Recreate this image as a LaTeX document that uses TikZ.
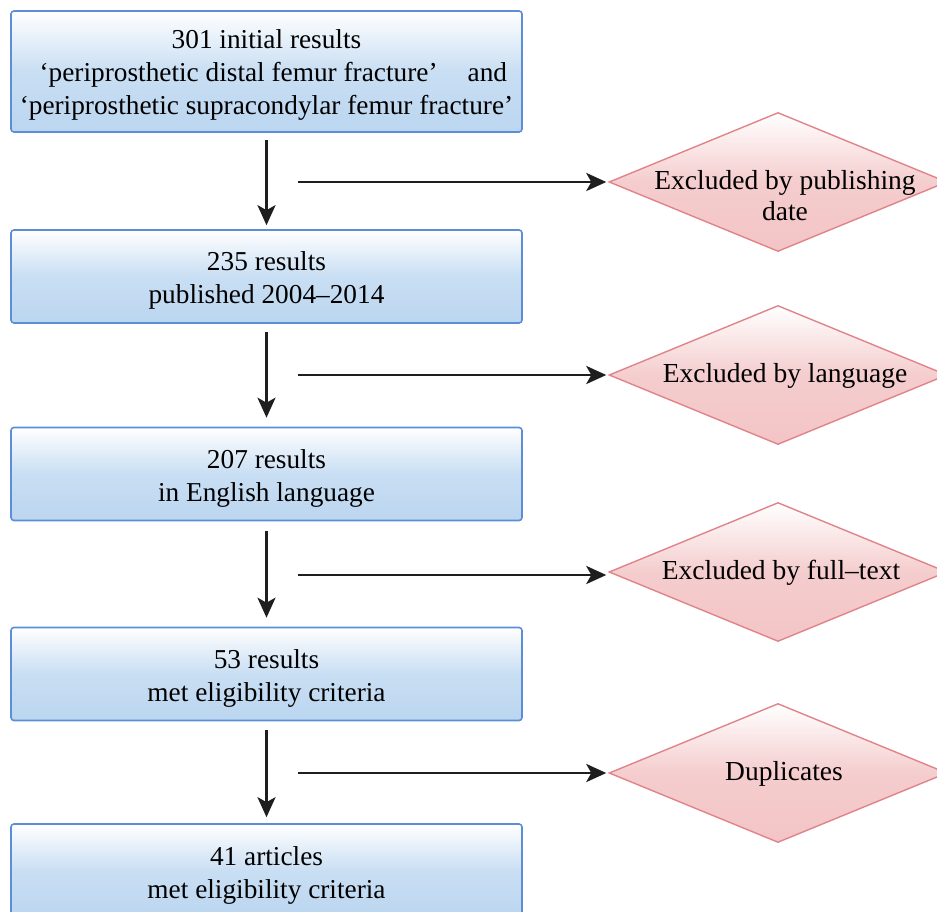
\documentclass[tikz,border=0pt]{standalone}
\usepackage{fontspec}
\setmainfont{Liberation Serif}
\usetikzlibrary{shapes.geometric,arrows.meta}
\definecolor{boxline}{HTML}{5B8ED6}
\definecolor{boxfill}{HTML}{BBD6F0}
\definecolor{dialine}{HTML}{E0848A}
\definecolor{diafill}{HTML}{F3C4C5}
\definecolor{arrowc}{HTML}{1E1E1E}
\tikzset{
  stepbox/.style={draw=boxline, line width=1.6pt, rounded corners=3pt,
    top color=white, bottom color=boxfill, middle color=boxfill!80!white,
    minimum width=511pt, inner sep=0pt},
  steptext/.style={align=center, inner sep=0pt, font=\fontsize{27.3}{33}\selectfont},
  exclbox/.style={diamond, draw=dialine, line width=1.4pt,
    top color=white, bottom color=diafill, middle color=diafill!85!white,
    minimum width=338pt, minimum height=139pt, inner sep=0pt},
  excltext/.style={align=center, font=\fontsize{27.5}{31}\selectfont},
  flow/.style={draw=arrowc, line width=2.8pt, -{Stealth[length=20pt,width=18pt,inset=5pt]}}
}
\begin{document}
\begin{tikzpicture}[x=1pt,y=-1pt]
\useasboundingbox (0,0) rectangle (937,912);
% main boxes
\node[stepbox, minimum height=121pt] (b1) at (266.5,71.5) {};
\node[stepbox, minimum height=93pt] (b2) at (266.5,276.5) {};
\node[stepbox, minimum height=93pt] (b3) at (266.5,474) {};
\node[stepbox, minimum height=93pt] (b4) at (266.5,674) {};
\node[stepbox, minimum height=94pt] (b5) at (266.5,871) {};
\node[steptext] (l1) at ([yshift=-3pt]b1.center)
  {301 initial results\\
   \hspace*{0.5em}‘periprosthetic distal femur fracture’\hspace{1.1em}and\\
   ‘periprosthetic supracondylar femur fracture’};
\node[steptext] (l2) at ([yshift=-4pt]b2.center) {235 results\\published 2004--2014};
\node[steptext] (l3) at ([yshift=-4pt]b3.center) {207 results\\in English language};
\node[steptext] (l4) at ([yshift=-4pt]b4.center) {53 results\\met eligibility criteria};
\node[steptext] (l5) at ([yshift=-4pt]b5.center) {41 articles\\met eligibility criteria};
% exclusion diamonds
\node[exclbox] (d1) at (778,182) {};
\node[exclbox] (d2) at (778,375) {};
\node[exclbox] (d3) at (778,572) {};
\node[exclbox] (d4) at (778,773) {};
\node[excltext] (t1) at ([xshift=7pt,yshift=-14pt]d1.center) {Excluded by publishing\\date};
\node[excltext] (t2) at ([xshift=7pt,yshift=-1pt]d2.center) {Excluded by language};
\node[excltext] (t3) at ([xshift=3pt,yshift=-1pt]d3.center) {Excluded by full--text};
\node[excltext] (t4) at ([xshift=6pt,yshift=-1pt]d4.center) {Duplicates};
% side arrow starts
\coordinate (s1) at (298,182);
\coordinate (s2) at (298,375);
\coordinate (s3) at (298,575);
\coordinate (s4) at (298,773);
% vertical flow
\draw[flow, shorten <=7pt, shorten >=4pt] (b1.south) -- (b2.north);
\draw[flow, shorten <=8pt, shorten >=9pt] (b2.south) -- (b3.north);
\draw[flow, shorten <=10pt, shorten >=9pt] (b3.south) -- (b4.north);
\draw[flow, shorten <=9pt, shorten >=6pt] (b4.south) -- (b5.north);
% side arrows
\draw[flow, shorten >=2pt] (s1) -- (d1.west);
\draw[flow, shorten >=2pt] (s2) -- (d2.west);
\draw[flow, shorten >=2pt] (s3) -- (d3.west |- s3);
\draw[flow, shorten >=2pt] (s4) -- (d4.west);
\end{tikzpicture}
\end{document}
